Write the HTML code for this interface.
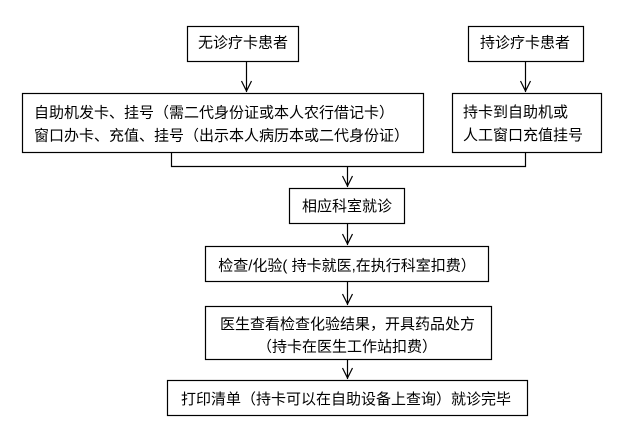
<!DOCTYPE html>
<html><head><meta charset="utf-8"><style>
html,body{margin:0;padding:0;background:#fff;}
svg{display:block;}
text{font-family:"Liberation Sans","Noto Sans CJK SC",sans-serif;font-size:15px;fill:#000;}
</style></head><body>
<svg width="626" height="441" viewBox="0 0 626 441" xmlns="http://www.w3.org/2000/svg">
<g fill="none" stroke="#000" stroke-width="1.2">
<rect x="187.5" y="26.5" width="111" height="35"/>
<rect x="468.5" y="26.5" width="115" height="35"/>
<rect x="22.5" y="93.5" width="401" height="59"/>
<rect x="452.5" y="93.5" width="149" height="59"/>
<rect x="289.5" y="188.5" width="115" height="35"/>
<rect x="205.5" y="246.5" width="283" height="35"/>
<rect x="205.5" y="306.5" width="286" height="53"/>
<rect x="167.5" y="380.5" width="360" height="35"/>
<!-- arrows -->
<path d="M246.5 62 V92 M241.5 81 L246.5 91 L251.5 81"/>
<path d="M525.5 62 V92 M520.5 81 L525.5 91 L530.5 81"/>
<path d="M171.5 153 V166.5 H525.5 V153"/>
<path d="M347.5 166.5 V187 M342.5 176 L347.5 186 L352.5 176"/>
<path d="M347.5 224 V245 M342.5 234 L347.5 244 L352.5 234"/>
<path d="M347.5 282 V305 M342.5 294 L347.5 304 L352.5 294"/>
<path d="M347.5 360 V379 M342.5 368 L347.5 378 L352.5 368"/>
</g>
<text x="243" y="47.5" text-anchor="middle">无诊疗卡患者</text>
<text x="525" y="47.5" text-anchor="middle">持诊疗卡患者</text>
<text x="34" y="117.5">自助机发卡、挂号（需二代身份证或本人农行借记卡）</text>
<text x="34" y="140.5">窗口办卡、充值、挂号（出示本人病历本或二代身份证）</text>
<text x="463" y="117">持卡到自助机或</text>
<text x="463" y="140">人工窗口充值挂号</text>
<text x="347" y="211" text-anchor="middle">相应科室就诊</text>
<text x="347" y="270.5" text-anchor="middle">检查/化验( 持卡就医,在执行科室扣费）</text>
<text x="347.5" y="329" text-anchor="middle">医生查看检查化验结果，开具药品处方</text>
<text x="347" y="351.5" text-anchor="middle">（持卡在医生工作站扣费）</text>
<text x="346" y="404" text-anchor="middle">打印清单（持卡可以在自助设备上查询）就诊完毕</text>
</svg>
</body></html>
